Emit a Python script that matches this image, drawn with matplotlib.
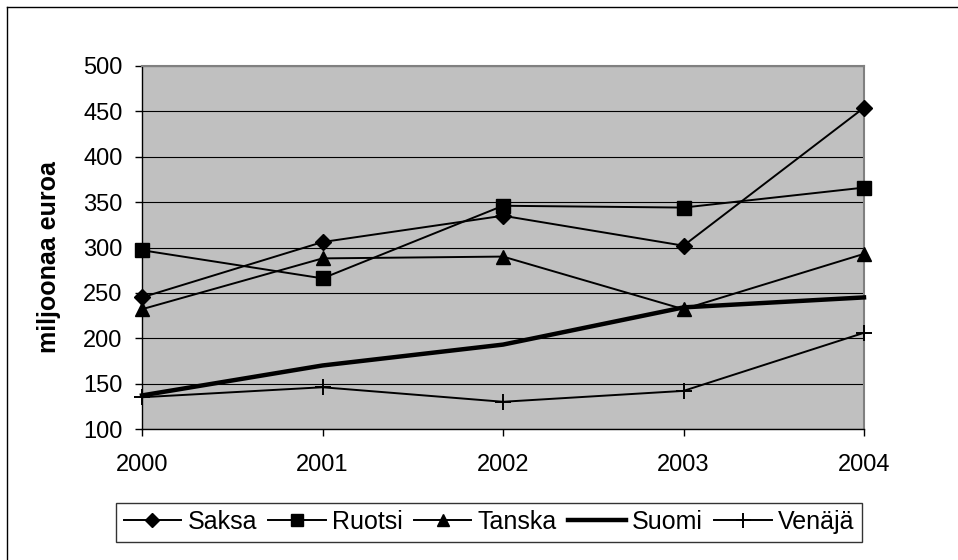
import matplotlib
matplotlib.use("Agg")
import matplotlib.pyplot as plt
from matplotlib.lines import Line2D

plt.rcParams['font.family'] = ['Liberation Sans', 'DejaVu Sans']

years = [2000, 2001, 2002, 2003, 2004]
saksa = [245, 306, 335, 302, 454]
ruotsi = [297, 266, 346, 344, 366]
tanska = [232, 288, 290, 232, 293]
suomi = [137, 170, 193, 234, 245]
venaja = [135, 146, 130, 142, 206]

W, H = 958, 560
fig = plt.figure(figsize=(W / 100, H / 100), dpi=100)
ax = fig.add_axes([142 / W, 1 - 429 / H, 722 / W, 363 / H])
ax.set_facecolor('#C0C0C0')

x = list(range(len(years)))
style = dict(color='black', lw=1.4, clip_on=False, zorder=3)
ax.plot(x, saksa, marker='D', ms=8, label='Saksa', **style)
ax.plot(x, ruotsi, marker='s', ms=9.5, label='Ruotsi', **style)
ax.plot(x, tanska, marker='^', ms=10, label='Tanska', **style)
ax.plot(x, suomi, color='black', lw=3.2, clip_on=False, zorder=3, label='Suomi')
ax.plot(x, venaja, marker='+', ms=12, mew=1.4, label='Venäjä', **style)

ax.set_xlim(0, len(years) - 1)
ax.set_ylim(100, 500)
ax.set_yticks(range(100, 501, 50))
ax.set_xticks(x)
ax.set_xticklabels([str(y) for y in years])
ax.yaxis.grid(True, color='black', lw=0.8)
ax.set_axisbelow(True)
ax.tick_params(axis='both', direction='out', length=5, width=1, labelsize=17, colors='black')
ax.tick_params(axis='x', pad=13)
ax.tick_params(axis='y', pad=9)
for s in ['left', 'bottom']:
    ax.spines[s].set_color('black')
    ax.spines[s].set_linewidth(1)
for s in ['top', 'right']:
    ax.spines[s].set_color('#808080')
    ax.spines[s].set_linewidth(1.5)

fig.text(49 / W, 1 - 257 / H, 'miljoonaa euroa', rotation=90, ha='center', va='center',
         fontsize=18, fontweight='bold')

leg = fig.legend(loc='center', bbox_to_anchor=(489 / W, 1 - 522 / H), ncol=5,
                 fontsize=18, frameon=True, fancybox=False, edgecolor='black',
                 handlelength=2.3, handletextpad=0.25, columnspacing=0.45,
                 borderpad=0.3, borderaxespad=0, markerscale=0.9)
leg.get_frame().set_linewidth(1)

# chart frame: left and top edges
fig.add_artist(Line2D([7 / W, 7 / W], [0, 1 - 7 / H], transform=fig.transFigure, color='black', lw=1))
fig.add_artist(Line2D([7 / W, 1], [1 - 7 / H, 1 - 7 / H], transform=fig.transFigure, color='black', lw=1))

fig.savefig('out.png', dpi=100)
